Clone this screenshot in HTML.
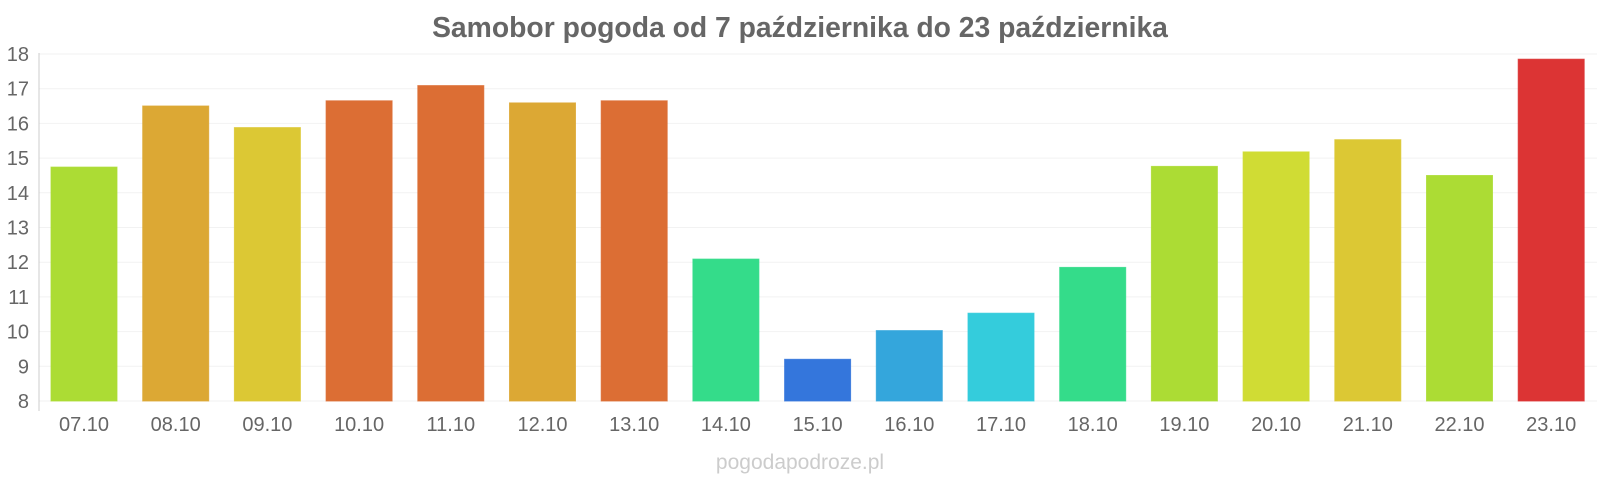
<!DOCTYPE html><html><head><meta charset="utf-8"><style>body{margin:0;background:#fff}svg{display:block;font-family:"Liberation Sans",sans-serif}</style></head><body>
<svg width="1600" height="480" xmlns="http://www.w3.org/2000/svg">
<text x="800" y="37" text-anchor="middle" font-size="28.3" font-weight="bold" fill="#666">Samobor pogoda od 7 października do 23 października</text>
<g stroke="#f2f2f2">
<line x1="39" x2="1597" y1="401" y2="401"/><line x1="39" x2="1597" y1="366.3" y2="366.3"/><line x1="39" x2="1597" y1="331.6" y2="331.6"/><line x1="39" x2="1597" y1="296.9" y2="296.9"/><line x1="39" x2="1597" y1="262.2" y2="262.2"/><line x1="39" x2="1597" y1="227.5" y2="227.5"/><line x1="39" x2="1597" y1="192.8" y2="192.8"/><line x1="39" x2="1597" y1="158.1" y2="158.1"/><line x1="39" x2="1597" y1="123.4" y2="123.4"/><line x1="39" x2="1597" y1="88.7" y2="88.7"/><line x1="39" x2="1597" y1="54" y2="54"/>
</g>
<g font-size="20" fill="#666" text-anchor="end">
<text x="29" y="408">8</text><text x="29" y="373.3">9</text><text x="29" y="338.6">10</text><text x="29" y="303.9">11</text><text x="29" y="269.2">12</text><text x="29" y="234.5">13</text><text x="29" y="199.8">14</text><text x="29" y="165.1">15</text><text x="29" y="130.4">16</text><text x="29" y="95.7">17</text><text x="29" y="61">18</text>
</g>
<line x1="39" x2="39" y1="53" y2="411" stroke="#ccc"/>
<g stroke-opacity="0.8">
<rect x="51" y="167.1" width="66" height="233.9" fill="#acdc34" stroke="#acdc34"/>
<rect x="142.7" y="106" width="66" height="295" fill="#dca834" stroke="#dca834"/>
<rect x="234.4" y="127.6" width="66" height="273.4" fill="#dcc834" stroke="#dcc834"/>
<rect x="326.1" y="100.8" width="66" height="300.2" fill="#dc6e34" stroke="#dc6e34"/>
<rect x="417.8" y="85.6" width="66" height="315.4" fill="#dc6e34" stroke="#dc6e34"/>
<rect x="509.5" y="102.9" width="66" height="298.1" fill="#dca834" stroke="#dca834"/>
<rect x="601.2" y="100.8" width="66" height="300.2" fill="#dc6e34" stroke="#dc6e34"/>
<rect x="692.9" y="259.1" width="66" height="141.9" fill="#34dc8a" stroke="#34dc8a"/>
<rect x="784.6" y="359.3" width="66" height="41.7" fill="#3476dc" stroke="#3476dc"/>
<rect x="876.3" y="330.6" width="66" height="70.4" fill="#34a6dc" stroke="#34a6dc"/>
<rect x="968" y="313.2" width="66" height="87.8" fill="#34ccdc" stroke="#34ccdc"/>
<rect x="1059.7" y="267.4" width="66" height="133.6" fill="#34dc8a" stroke="#34dc8a"/>
<rect x="1151.4" y="166.4" width="66" height="234.6" fill="#acdc34" stroke="#acdc34"/>
<rect x="1243.1" y="151.9" width="66" height="249.1" fill="#d0dc34" stroke="#d0dc34"/>
<rect x="1334.8" y="139.7" width="66" height="261.3" fill="#dcc834" stroke="#dcc834"/>
<rect x="1426.5" y="175.5" width="66" height="225.5" fill="#acdc34" stroke="#acdc34"/>
<rect x="1518.2" y="59.2" width="66" height="341.8" fill="#dc3434" stroke="#dc3434"/>
</g>
<g font-size="20" fill="#666" text-anchor="middle">
<text x="84" y="431">07.10</text><text x="175.7" y="431">08.10</text><text x="267.4" y="431">09.10</text><text x="359.1" y="431">10.10</text><text x="450.8" y="431">11.10</text><text x="542.5" y="431">12.10</text><text x="634.2" y="431">13.10</text><text x="725.9" y="431">14.10</text><text x="817.6" y="431">15.10</text><text x="909.3" y="431">16.10</text><text x="1001" y="431">17.10</text><text x="1092.7" y="431">18.10</text><text x="1184.4" y="431">19.10</text><text x="1276.1" y="431">20.10</text><text x="1367.8" y="431">21.10</text><text x="1459.5" y="431">22.10</text><text x="1551.2" y="431">23.10</text>
</g>
<text x="800" y="469" text-anchor="middle" font-size="21" fill="#ccc">pogodapodroze.pl</text>
</svg></body></html>
